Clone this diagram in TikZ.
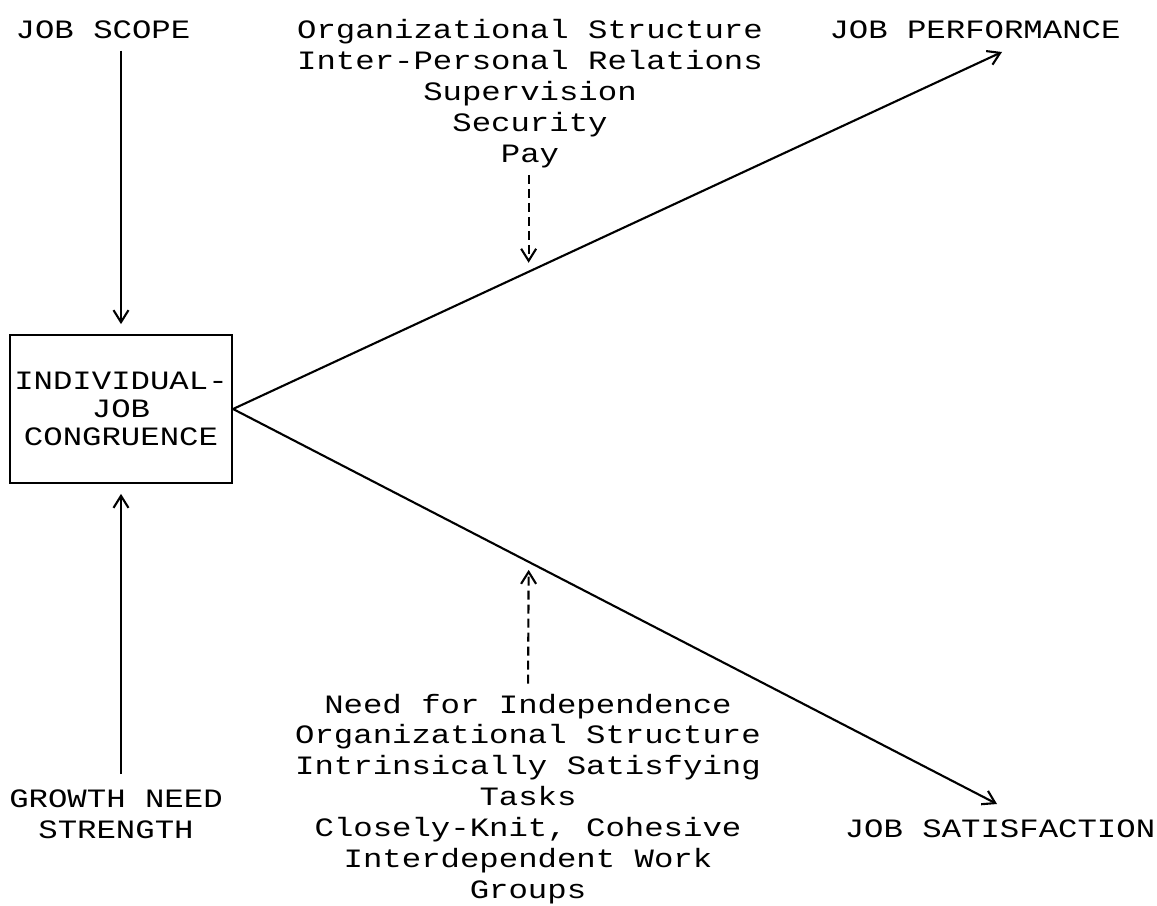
\documentclass[tikz,border=0pt]{standalone}
\usepackage{fontspec}
\setmainfont{Liberation Mono}
\usetikzlibrary{arrows.meta}

\begin{document}
\begin{tikzpicture}[x=0.02cm,y=-0.02cm]
\tikzstyle{every node} = [font=\fontsize{18.4}{21.4}\selectfont, inner sep=0pt]
\tikzstyle{lbl} = [anchor=base, align=center, yscale=0.82]
\tikzstyle{flow} = [line width=1.2pt, -{Straight Barb[length=0.24cm, width=0.3cm, line width=1.2pt]}]
\tikzstyle{moderator} = [flow, dash pattern=on 0.18cm off 0.1cm]
\useasboundingbox (0,0) rectangle (1157,906);

% the central box
\node[draw, line width=1.2pt, yscale=0.82, align=center,
      minimum width=222*0.02cm, minimum height=148*0.02cm/0.82,
      font=\fontsize{18.4}{19.2}\selectfont] (cong) at (121,409) {INDIVIDUAL-\\JOB\\CONGRUENCE};

\node[lbl] (scope) at (103,38) {JOB SCOPE};
\node[lbl] (growth) at (116,838) {GROWTH NEED\\STRENGTH};
\node[lbl] (perf) at (975,38) {JOB PERFORMANCE};
\node[lbl] (satis) at (1000,837) {JOB SATISFACTION};

\node[lbl] (topfac) at (530,162) {Organizational Structure\\Inter-Personal Relations\\Supervision\\Security\\Pay};
\node[lbl] (botfac) at (528,898) {Need for Independence\\Organizational Structure\\Intrinsically Satisfying\\Tasks\\Closely-Knit, Cohesive\\Interdependent Work\\Groups};

\coordinate (pe) at (1002,52);
\coordinate (se) at (997,804);

% inputs to the box
\draw[flow, shorten <=12*0.02cm, shorten >=10*0.02cm] (scope.south -| cong.north) -- (cong.north);
\draw[flow, shorten <=15*0.02cm, shorten >=10*0.02cm] (growth.north -| cong.south) -- (cong.south);

% outcomes
\draw[flow] (cong.east) -- coordinate[pos=0.3844] (upmid) (pe);
\draw[flow] (cong.east) -- coordinate[pos=0.387] (lowmid) (se);

% moderators
\draw[moderator, shorten <=7*0.02cm, shorten >=9*0.02cm] (topfac.south -| upmid) -- (upmid);
\draw[moderator, shorten <=10*0.02cm, shorten >=8*0.02cm] (botfac.north) -- (lowmid);
\end{tikzpicture}
\end{document}
